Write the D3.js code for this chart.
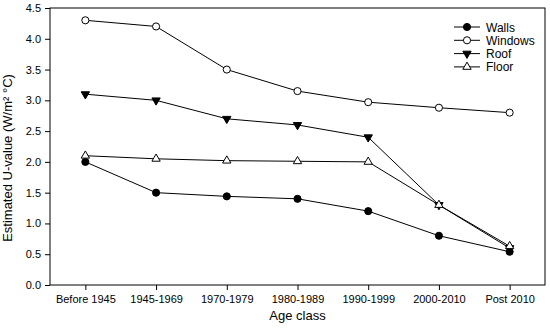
<!DOCTYPE html>
<html>
<head>
<meta charset="utf-8">
<script src="https://cdn.jsdelivr.net/npm/d3@7"></script>
<style>
  body { margin: 0; background: #fff; }
  text { font-family: "Liberation Sans", Arial, sans-serif; fill: #000; }
</style>
</head>
<body>
<div class="chart"></div>
<script>
const categories = ["Before 1945", "1945-1969", "1970-1979", "1980-1989", "1990-1999", "2000-2010", "Post 2010"];
const walls   = [2.0, 1.5, 1.44, 1.4, 1.2, 0.8, 0.54];
const windows = [4.3, 4.2, 3.5, 3.15, 2.97, 2.88, 2.8];
const roof    = [3.1, 3.0, 2.7, 2.6, 2.4, 1.3, 0.6];
const floor   = [2.1, 2.05, 2.02, 2.01, 2.0, 1.3, 0.63];
const y_ticks = [0, 0.5, 1, 1.5, 2, 2.5, 3, 3.5, 4, 4.5];

const series = [
  { name: "Walls", values: walls, symbol: d3.symbolCircle, fill: "#000", size: 40 },
  { name: "Windows", values: windows, symbol: d3.symbolCircle, fill: "#fff", size: 40 },
  { name: "Roof", values: roof, symbol: "down", fill: "#000", size: 30 },
  { name: "Floor", values: floor, symbol: d3.symbolTriangle, fill: "#fff", size: 30 }
];

const margin = { top: 8, right: 5, bottom: 50, left: 50 };
const width = 550 - margin.left - margin.right;
const height = 335 - margin.top - margin.bottom;

const svg = d3.select(".chart")
  .append("svg")
  .attr("width", 550)
  .attr("height", 335)
  .append("g")
  .attr("transform", `translate(${margin.left},${margin.top})`);

const x = d3.scalePoint().domain(categories).range([0, width]).padding(0.5);
const y = d3.scaleLinear().domain([0, 4.5]).range([height, 0]);

// frame
svg.append("rect")
  .attr("width", width).attr("height", height)
  .attr("fill", "none").attr("stroke", "#000").attr("stroke-width", 1);

// axes
const xAxis = svg.append("g")
  .attr("transform", `translate(0,${height})`)
  .call(d3.axisBottom(x).tickSize(5).tickPadding(5));
const yAxis = svg.append("g")
  .call(d3.axisLeft(y).tickValues(y_ticks).tickFormat(d3.format(".1f")).tickSize(5).tickPadding(4));

[xAxis, yAxis].forEach(a => {
  a.select(".domain").remove();
  a.selectAll("line").attr("stroke", "#000");
  a.selectAll("text").style("font-size", "11px").attr("fill", "#000");
});

// axis titles
svg.append("text")
  .attr("x", width / 2).attr("y", height + 35)
  .attr("text-anchor", "middle")
  .style("font-size", "13px")
  .text("Age class");

svg.append("text")
  .attr("transform", `translate(${-38},${150}) rotate(-90)`)
  .attr("text-anchor", "middle")
  .style("font-size", "13px")
  .text("Estimated U-value (W/m² °C)");

function symbolPath(s) {
  if (s.symbol === "down") {
    return d3.symbol(d3.symbolTriangle, s.size)();
  }
  return d3.symbol(s.symbol, s.size)();
}

const line = d3.line()
  .x((d, i) => x(categories[i]))
  .y(d => y(d));

series.forEach(s => {
  svg.append("path")
    .datum(s.values)
    .attr("d", line)
    .attr("fill", "none")
    .attr("stroke", "#000")
    .attr("stroke-width", 1);
});

series.forEach(s => {
  svg.selectAll(null)
    .data(s.values)
    .enter()
    .append("path")
    .attr("d", symbolPath(s))
    .attr("transform", (d, i) => `translate(${x(categories[i])},${y(d)})` + (s.symbol === "down" ? " rotate(180)" : ""))
    .attr("fill", s.fill)
    .attr("stroke", "#000")
    .attr("stroke-width", 1);
});

// legend
const legend = svg.append("g").attr("transform", `translate(${404},${19})`);
series.forEach((s, i) => {
  const g = legend.append("g").attr("transform", `translate(0,${i * 13.3})`);
  g.append("line").attr("x1", 0).attr("x2", 26).attr("stroke", "#000");
  g.append("path")
    .attr("d", symbolPath(s))
    .attr("transform", `translate(13,0)` + (s.symbol === "down" ? " rotate(180)" : ""))
    .attr("fill", s.fill).attr("stroke", "#000");
  g.append("text").attr("x", 32).attr("y", 4.5).style("font-size", "12px").text(s.name);
});
</script>
</body>
</html>
